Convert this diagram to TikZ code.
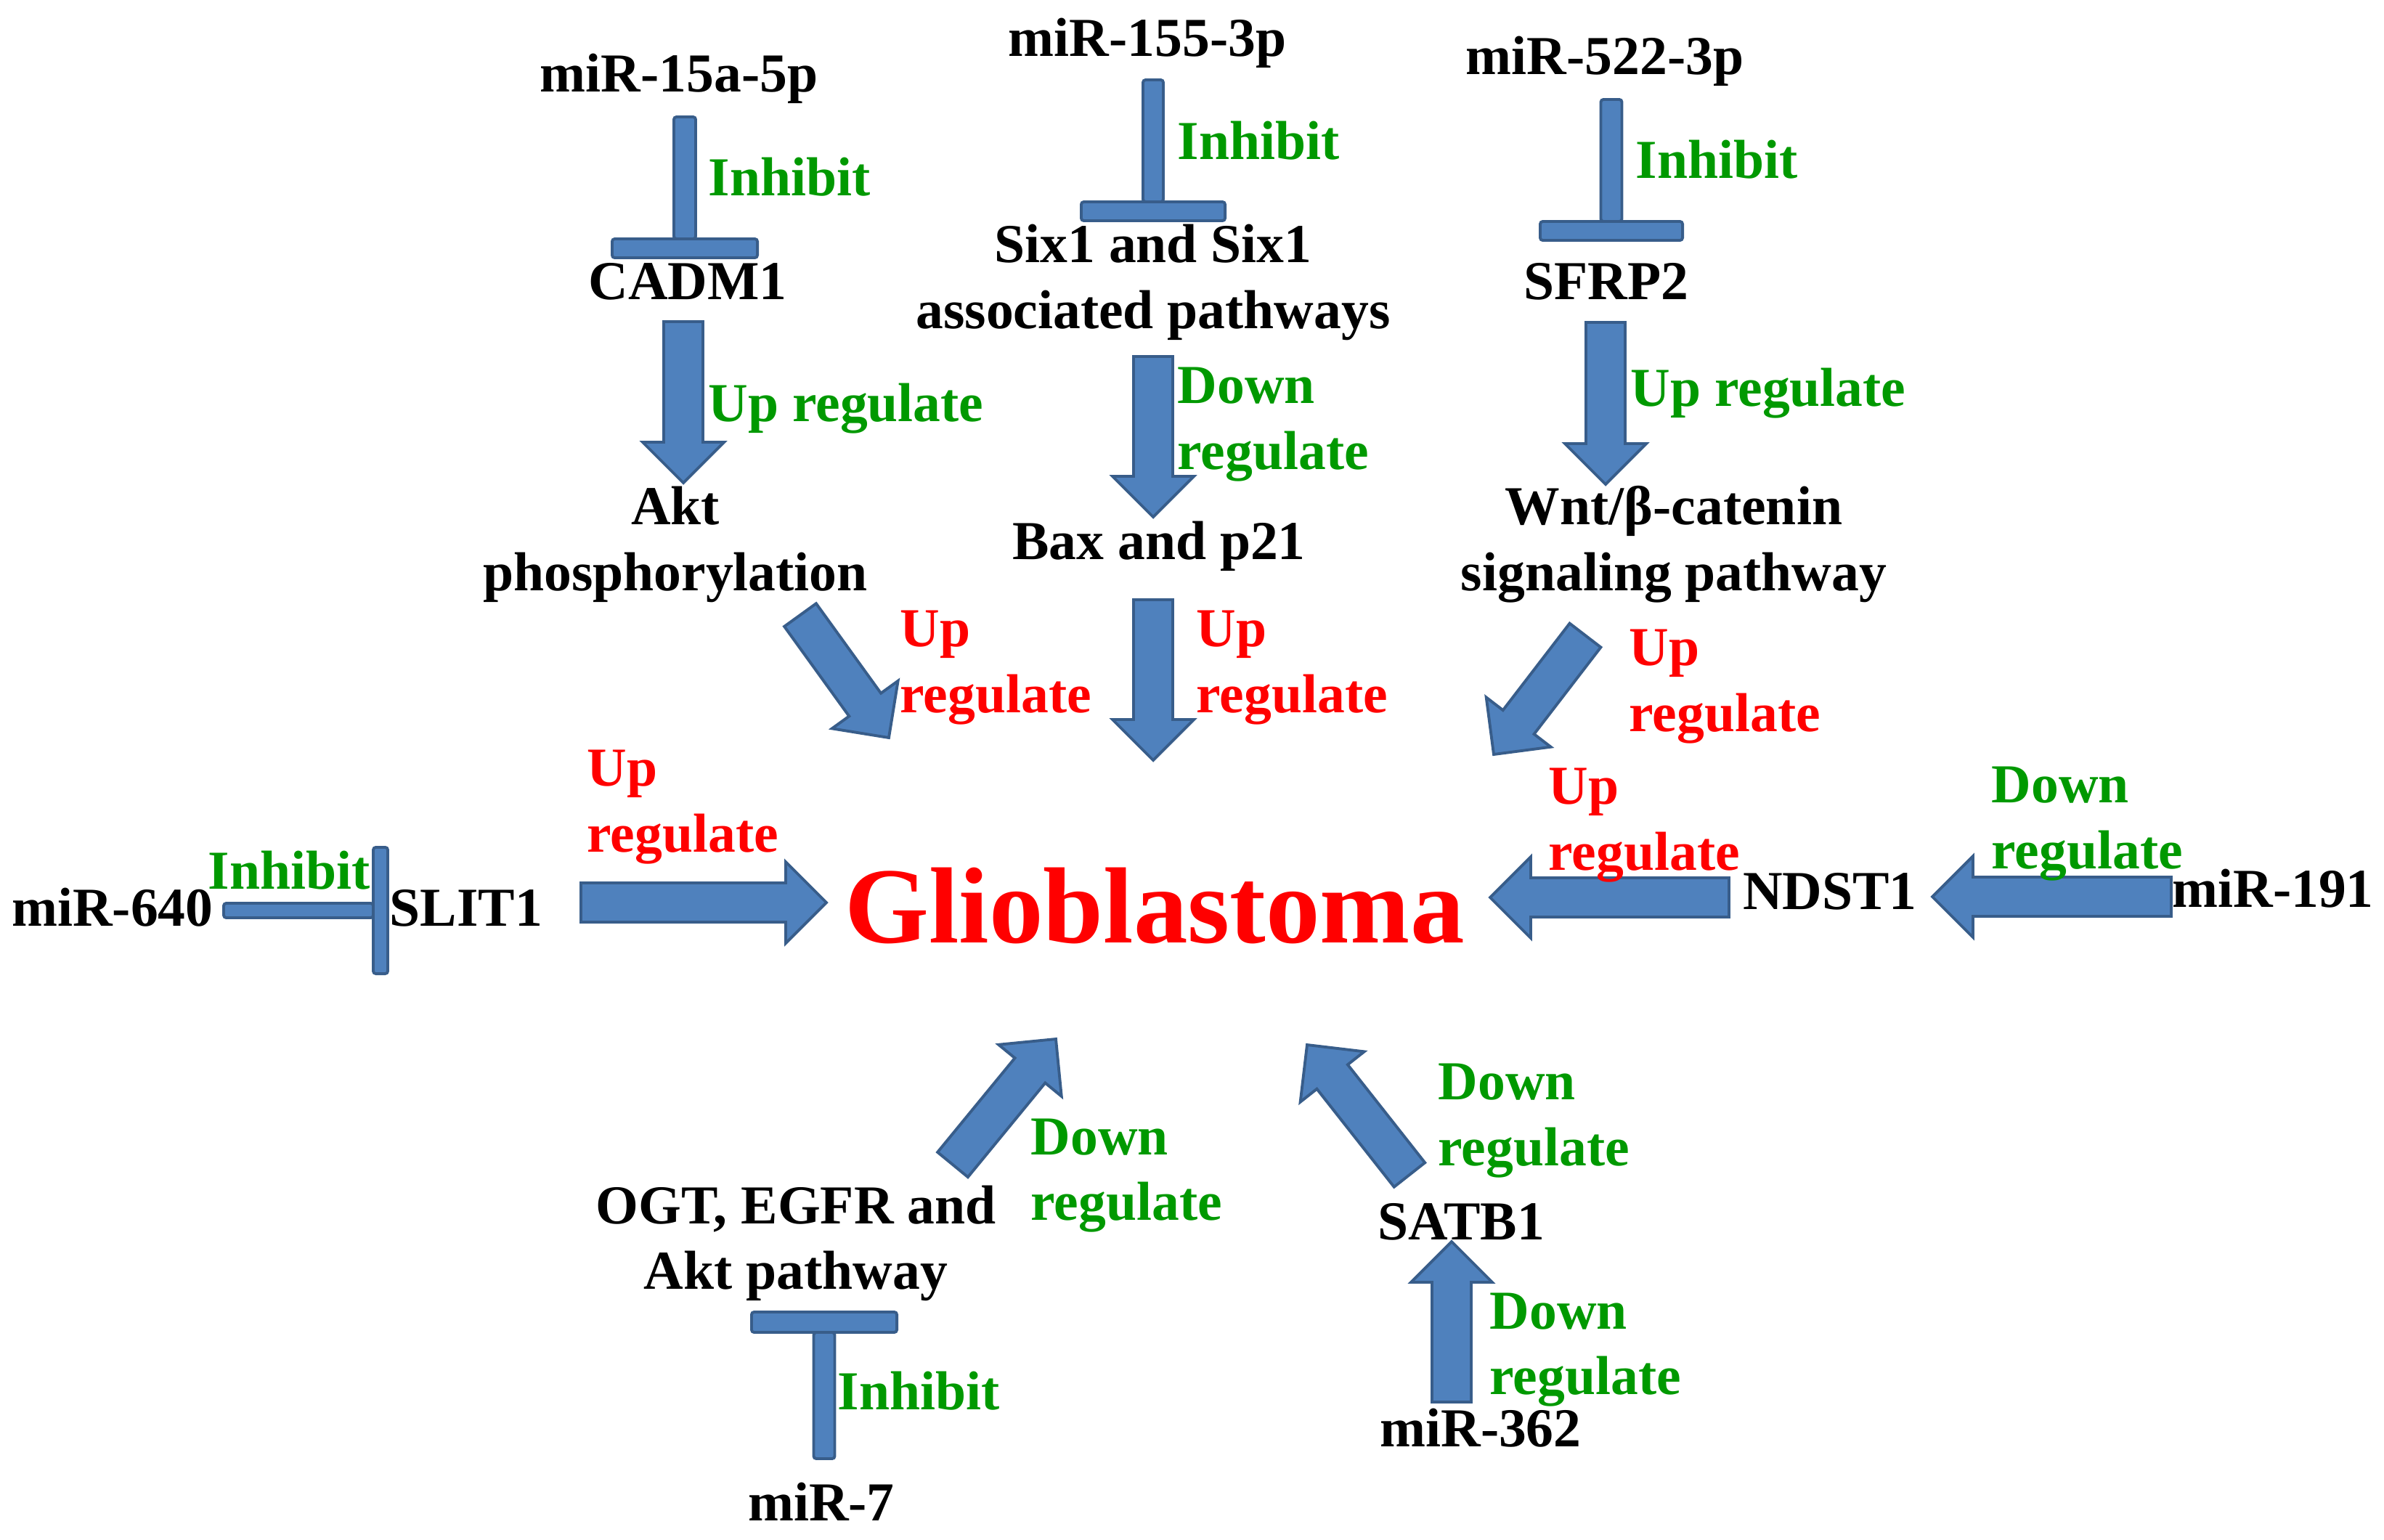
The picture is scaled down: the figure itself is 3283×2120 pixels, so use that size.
\documentclass[tikz,border=0pt]{standalone}
\usepackage{fontspec}
\setmainfont{Liberation Serif}
\usetikzlibrary{calc}
\definecolor{arrowfill}{RGB}{79,129,189}
\definecolor{arrowedge}{RGB}{56,93,138}
\definecolor{downgreen}{RGB}{0,153,0}
\definecolor{upred}{RGB}{255,0,0}
\tikzset{
  gene/.style={font=\bfseries\fontsize{21.5}{25.6}\selectfont, inner sep=0pt, align=center, anchor=base},
  effect/.style={font=\bfseries\fontsize{21.5}{25.6}\selectfont, inner sep=0pt, align=left, anchor=base west},
  glabel/.style={effect, text=downgreen},
  rlabel/.style={effect, text=upred},
  blockarrow/.style={fill=arrowfill, draw=arrowedge, line width=1.1pt, line join=miter}
}
% block arrow from tail (#1) to tip (#2)
\newcommand{\blockarrow}[2]{%
  \coordinate (h) at ($(#2)!0.56cm!(#1)$);
  \draw[blockarrow] ($(#1)!0.27cm!90:(#2)$) -- ($(h)!0.27cm!90:(#2)$) -- ($(h)!0.56cm!90:(#2)$)
    -- (#2) -- ($(h)!0.56cm!-90:(#2)$) -- ($(h)!0.27cm!-90:(#2)$) -- ($(#1)!0.27cm!-90:(#2)$) -- cycle;}
% inhibition bar: from, bar, stem half width, bar half length, bar thickness
\newcommand{\inhibit}[5]{%
  \draw[blockarrow, rounded corners=1pt] ($(#1)!#3!90:(#2)$) -- ($(#2)!#3!-90:(#1)$)
    -- ($(#2)!#3!90:(#1)$) -- ($(#1)!#3!-90:(#2)$) -- cycle;
  \coordinate (c) at ($(#2)!-#5!(#1)$);
  \draw[blockarrow, rounded corners=1pt] ($(#2)!#4!90:(#1)$) -- ($(#2)!#4!-90:(#1)$)
    -- ($(c)!#4!-90:(#1)$) -- ($(c)!#4!90:(#1)$) -- cycle;}
\begin{document}
\begin{tikzpicture}[x=0.01cm, y=-0.01cm]
\useasboundingbox (0,0) rectangle (3283,2120);

% arrow ends
\foreach \n/\x/\y in {cadm1t/941/443, akth/941/665, six1t/1588/491, baxh/1588/712,
    sfrp2t/2211/444, wnth/2211/667, aktt/1102/847, gbmnw/1224/1016,
    baxt/1588/826, gbmn/1588/1047, wntt/2183/875, gbmne/2057/1039,
    slit1t/800/1243, gbmw/1138/1243, ndst1t/2381/1236, gbme/2052/1236,
    mir191t/2990/1235, ndst1h/2661/1235, ogtt/1312/1604, gbmsw/1454/1431,
    satb1t/1941/1618, gbmse/1800/1439, mir362t/1999/1931, satb1h/1999/1710}
  \coordinate (\n) at (\x,\y);
\foreach \n/\x/\y in {mir15at/943/161, cadm1b/943/329, mir155t/1588/110, six1b/1588/278,
    mir522t/2219/137, sfrp2b/2219/305, mir7t/1135/2009, ogtb/1135/1835,
    mir640t/308/1254, slit1b/514/1254}
  \coordinate (\n) at (\x,\y);

\foreach \a/\b in {cadm1t/akth, six1t/baxh, sfrp2t/wnth, aktt/gbmnw, baxt/gbmn,
    wntt/gbmne, slit1t/gbmw, ndst1t/gbme, mir191t/ndst1h, ogtt/gbmsw,
    satb1t/gbmse, mir362t/satb1h}
  \blockarrow{\a}{\b};

\inhibit{mir15at}{cadm1b}{0.15cm}{1cm}{0.26cm}
\inhibit{mir155t}{six1b}{0.14cm}{0.99cm}{0.26cm}
\inhibit{mir522t}{sfrp2b}{0.145cm}{0.98cm}{0.26cm}
\inhibit{mir7t}{ogtb}{0.145cm}{1cm}{0.28cm}
\inhibit{mir640t}{slit1b}{0.1cm}{0.87cm}{0.2cm}

% genes and pathways
\node[gene] (mir15a) at (935,126) {miR-15a-5p};
\node[gene] (cadm1) at (947,412) {CADM1};
\node[gene] (akt) at (930,813) {Akt\\phosphorylation};
\node[gene] (mir155) at (1580,77) {miR-155-3p};
\node[gene] (six1) at (1588,452) {Six1 and Six1\\associated pathways};
\node[gene] (bax) at (1596,770) {Bax and p21};
\node[gene] (mir522) at (2210,102) {miR-522-3p};
\node[gene] (sfrp2) at (2212,412) {SFRP2};
\node[gene] (wnt) at (2305,813) {Wnt/β-catenin\\signaling pathway};
\node[gene, font=\bfseries\fontsize{42.4}{50}\selectfont, text=upred] (gbm) at (1590,1298) {Glioblastoma};
\node[gene] (mir640) at (155,1275) {miR-640};
\node[gene] (slit1) at (642,1275) {SLIT1};
\node[gene] (ndst1) at (2520,1252) {NDST1};
\node[gene] (mir191) at (3130,1249) {miR-191};
\node[gene] (ogt) at (1096,1775) {OGT, EGFR and\\Akt pathway};
\node[gene] (satb1) at (2012,1707) {SATB1};
\node[gene] (mir362) at (2039,1992) {miR-362};
\node[gene] (mir7) at (1131,2094) {miR-7};

% effects
\node[glabel] (inh1) at (975,269) {Inhibit};
\node[glabel] (up1) at (975,580) {Up regulate};
\node[glabel] (inh2) at (1621,219) {Inhibit};
\node[glabel] (down1) at (1621,646) {Down\\regulate};
\node[glabel] (inh3) at (2252,245) {Inhibit};
\node[glabel] (up2) at (2245,559) {Up regulate};
\node[rlabel] (up3) at (1239,981) {Up\\regulate};
\node[rlabel] (up4) at (1647,981) {Up\\regulate};
\node[rlabel] (up5) at (2243,1007) {Up\\regulate};
\node[rlabel] (up6) at (808,1173) {Up\\regulate};
\node[glabel] (inh4) at (286,1224) {Inhibit};
\node[rlabel] (up7) at (2132,1198) {Up\\regulate};
\node[glabel] (down2) at (2742,1196) {Down\\regulate};
\node[glabel] (down3) at (1419,1680) {Down\\regulate};
\node[glabel] (down4) at (1980,1605) {Down\\regulate};
\node[glabel] (down5) at (2051,1920) {Down\\regulate};
\node[glabel] (inh5) at (1153,1941) {Inhibit};
\end{tikzpicture}
\end{document}
